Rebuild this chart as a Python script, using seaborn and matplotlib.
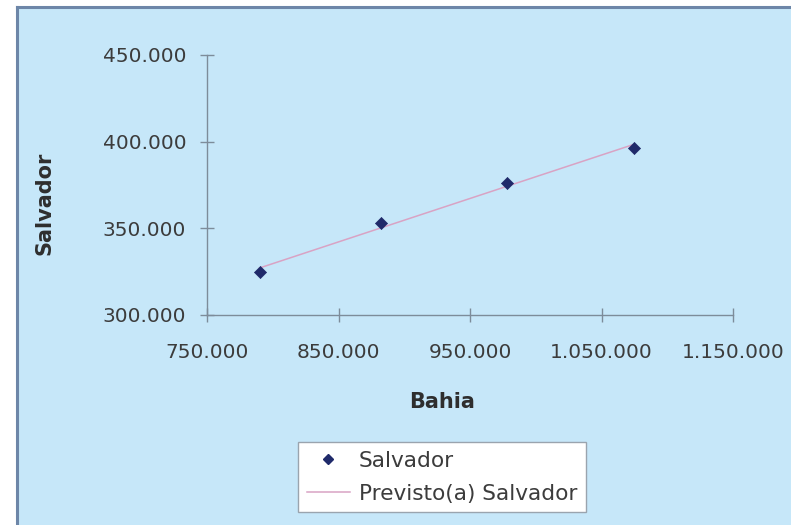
import numpy as np
import matplotlib
matplotlib.use("Agg")
import matplotlib.pyplot as plt
import seaborn as sns
from matplotlib.patches import Rectangle
from matplotlib.lines import Line2D
from matplotlib.ticker import FuncFormatter

# data
bahia = [790000, 882000, 978000, 1075000]
salvador = [324600, 352900, 376300, 396300]
x_ticks = [750000, 850000, 950000, 1050000, 1150000]
y_ticks = [300000, 350000, 400000, 450000]

plt.rcParams["font.family"] = ["DejaVu Sans"]

bg = "#c6e7f9"
border = "#6d86a8"
axis_col = "#7d8c9a"
text_col = "#3c3c3c"
dot_col = "#1f2a6a"
line_col = "#d9a3c4"

fig = plt.figure(figsize=(7.91, 5.25), dpi=100, facecolor="white")

# light blue chart area with dark edge on top and left
W, H = 791, 525
fig.patches.append(Rectangle((17 / W, 0), 1 - 17 / W, 1 - 7 / H,
                             transform=fig.transFigure, facecolor=bg,
                             edgecolor="none", zorder=-2))
fig.add_artist(Line2D([17 / W, 1], [1 - 7 / H, 1 - 7 / H], transform=fig.transFigure,
                      color=border, lw=2.2, zorder=-1))
fig.add_artist(Line2D([17 / W, 17 / W], [0, 1 - 7 / H], transform=fig.transFigure,
                      color=border, lw=2.2, zorder=-1))

ax = fig.add_axes([207 / W, 1 - 315 / H, (733 - 207) / W, (315 - 55) / H])
ax.set_facecolor("none")

sns.regplot(x=bahia, y=salvador, scatter=False, ci=None, ax=ax,
            line_kws={"color": line_col, "lw": 1.1})
sns.scatterplot(x=bahia, y=salvador, ax=ax, marker="D", s=38,
                color=dot_col, edgecolor=dot_col, linewidth=0.5, zorder=3)

ax.set_xlim(x_ticks[0], x_ticks[-1])
ax.set_ylim(y_ticks[0], y_ticks[-1])
ax.set_xticks(x_ticks)
ax.set_yticks(y_ticks)
fmt = FuncFormatter(lambda v, p: f"{v:,.0f}".replace(",", "."))
ax.xaxis.set_major_formatter(fmt)
ax.yaxis.set_major_formatter(fmt)

for s in ["top", "right"]:
    ax.spines[s].set_visible(False)
for s in ["left", "bottom"]:
    ax.spines[s].set_color(axis_col)
    ax.spines[s].set_linewidth(1.0)

ax.tick_params(axis="both", direction="inout", length=10, width=1.0,
               color=axis_col, labelcolor=text_col, labelsize=14.5)
ax.tick_params(axis="x", pad=15)
ax.tick_params(axis="y", pad=10)
ax.set_xlabel("")
ax.set_ylabel("")

# axis titles
fig.text(45 / W, 1 - 203 / H, "Salvador", rotation=90, ha="center", va="center",
         fontsize=15, fontweight="bold", color="#2e2e2e")
fig.text(442 / W, 1 - 402 / H, "Bahia", ha="center", va="center",
         fontsize=15, fontweight="bold", color="#2e2e2e")

# legend
handles = [
    Line2D([], [], marker="D", ls="none", color=dot_col, markersize=5),
    Line2D([], [], color=line_col, lw=1.1),
]
leg = fig.legend(handles, ["Salvador", "Previsto(a) Salvador"],
                 loc="upper left", bbox_to_anchor=(298 / W, 1 - 442 / H),
                 bbox_transform=fig.transFigure, borderaxespad=0,
                 fontsize=15.6, frameon=True, fancybox=False, framealpha=1,
                 edgecolor="#9aa4ae", borderpad=0.4, labelspacing=0.6,
                 handlelength=2.0, handletextpad=0.4)
leg.get_frame().set_linewidth(1.0)
for t in leg.get_texts():
    t.set_color(text_col)

plt.savefig("out.png", dpi=100, facecolor="white")
plt.close()
